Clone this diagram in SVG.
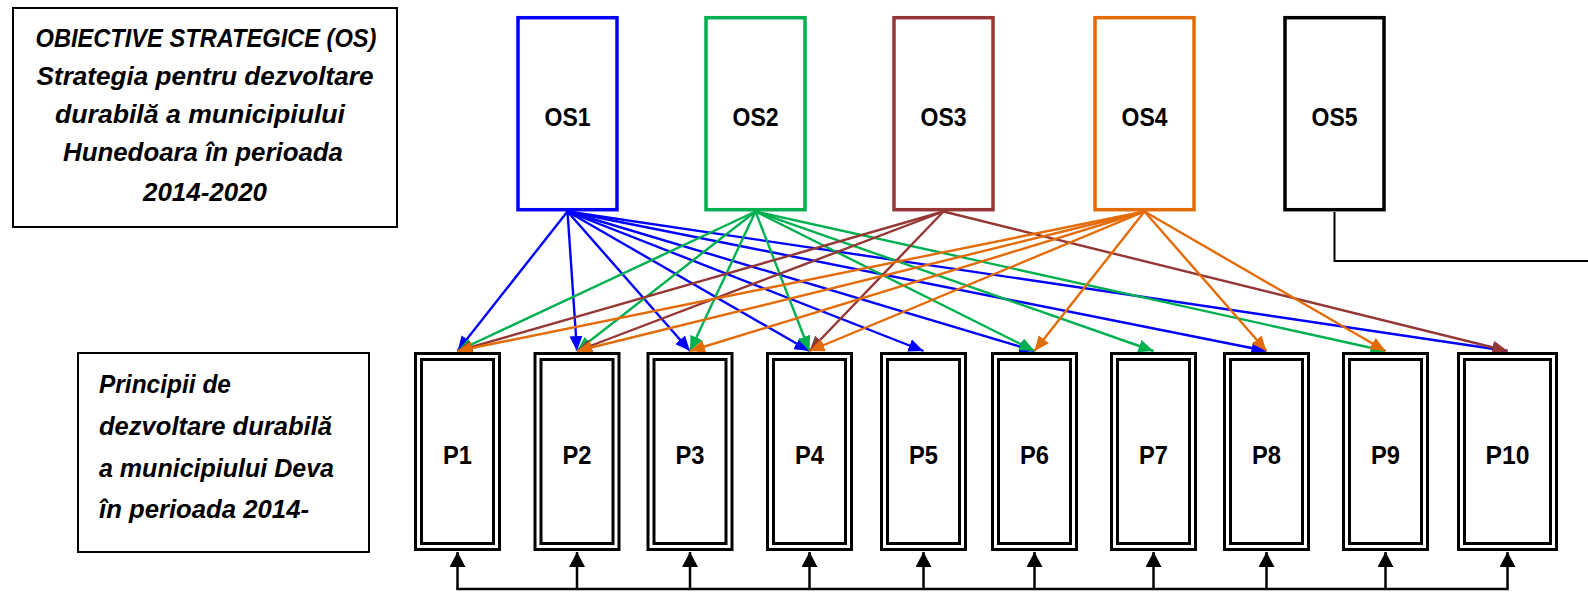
<svg xmlns="http://www.w3.org/2000/svg" width="1588" height="593" viewBox="0 0 1588 593">
<style>
.box{fill:#fff;stroke:#000;stroke-width:2}
.os{fill:#fff;stroke-width:3.5}
.pb{fill:#fff;stroke:#000;stroke-width:3}
.lbl{font-family:"Liberation Sans",Arial,sans-serif;font-weight:bold;font-size:26px;text-anchor:middle;fill:#000}
.txt{font-family:"Liberation Sans",Arial,sans-serif;font-weight:bold;font-style:italic;font-size:26px;fill:#000}
.c{fill:none;stroke-width:2.4}
.b{stroke:#0000FF;marker-end:url(#mb)}
.g{stroke:#00B050;marker-end:url(#mg)}
.r{stroke:#953735;marker-end:url(#mr)}
.o{stroke:#E36C09;marker-end:url(#mo)}
.k{fill:none;stroke:#000;stroke-width:2.5}
</style>
<defs>
<marker id="mb" viewBox="0 0 15 13" refX="15" refY="6.5" markerWidth="15" markerHeight="13" markerUnits="userSpaceOnUse" orient="auto"><path d="M0,0 L15,6.5 L0,13 z" fill="#0000FF"/></marker>
<marker id="mg" viewBox="0 0 15 13" refX="15" refY="6.5" markerWidth="15" markerHeight="13" markerUnits="userSpaceOnUse" orient="auto"><path d="M0,0 L15,6.5 L0,13 z" fill="#00B050"/></marker>
<marker id="mr" viewBox="0 0 15 13" refX="15" refY="6.5" markerWidth="15" markerHeight="13" markerUnits="userSpaceOnUse" orient="auto"><path d="M0,0 L15,6.5 L0,13 z" fill="#953735"/></marker>
<marker id="mo" viewBox="0 0 15 13" refX="15" refY="6.5" markerWidth="15" markerHeight="13" markerUnits="userSpaceOnUse" orient="auto"><path d="M0,0 L15,6.5 L0,13 z" fill="#E36C09"/></marker>
<marker id="mk" viewBox="0 0 15 16" refX="15" refY="8" markerWidth="15" markerHeight="16" markerUnits="userSpaceOnUse" orient="auto"><path d="M0,0 L15,8 L0,16 z" fill="#000"/></marker>
</defs>

<g id="title-os">
<rect class="box" x="13" y="8" width="384" height="219"/>
<text class="txt" x="206" y="47" text-anchor="middle" textLength="341" lengthAdjust="spacingAndGlyphs">OBIECTIVE STRATEGICE (OS)</text>
<text class="txt" x="205" y="85" text-anchor="middle" textLength="337" lengthAdjust="spacingAndGlyphs">Strategia pentru dezvoltare</text>
<text class="txt" x="200" y="123" text-anchor="middle" textLength="290" lengthAdjust="spacingAndGlyphs">durabilă a municipiului</text>
<text class="txt" x="203" y="161" text-anchor="middle" textLength="280" lengthAdjust="spacingAndGlyphs">Hunedoara în perioada</text>
<text class="txt" x="205" y="201" text-anchor="middle" textLength="124" lengthAdjust="spacingAndGlyphs">2014-2020</text>
</g>

<g id="title-p">
<rect class="box" x="78" y="353" width="291" height="199"/>
<text class="txt" x="99" y="393" textLength="132" lengthAdjust="spacingAndGlyphs">Principii de</text>
<text class="txt" x="99" y="435" textLength="233" lengthAdjust="spacingAndGlyphs">dezvoltare durabilă</text>
<text class="txt" x="99" y="477" textLength="235" lengthAdjust="spacingAndGlyphs">a municipiului Deva</text>
<text class="txt" x="99" y="518" textLength="210" lengthAdjust="spacingAndGlyphs">în perioada 2014-</text>
</g>

<g id="connectors">
<line class="c b" x1="567.5" y1="211.5" x2="457.5" y2="351"/>
<line class="c b" x1="567.5" y1="211.5" x2="577" y2="351"/>
<line class="c b" x1="567.5" y1="211.5" x2="690" y2="351"/>
<line class="c b" x1="567.5" y1="211.5" x2="809.5" y2="351"/>
<line class="c b" x1="567.5" y1="211.5" x2="923.5" y2="351"/>
<line class="c b" x1="567.5" y1="211.5" x2="1034.5" y2="351"/>
<line class="c b" x1="567.5" y1="211.5" x2="1266.5" y2="351"/>
<line class="c b" x1="567.5" y1="211.5" x2="1507.5" y2="351"/>
<line class="c g" x1="755.5" y1="211.5" x2="457.5" y2="351"/>
<line class="c g" x1="755.5" y1="211.5" x2="577" y2="351"/>
<line class="c g" x1="755.5" y1="211.5" x2="690" y2="351"/>
<line class="c g" x1="755.5" y1="211.5" x2="809.5" y2="351"/>
<line class="c g" x1="755.5" y1="211.5" x2="1034.5" y2="351"/>
<line class="c g" x1="755.5" y1="211.5" x2="1153.5" y2="351"/>
<line class="c g" x1="755.5" y1="211.5" x2="1385.5" y2="351"/>
<line class="c r" x1="943.5" y1="211.5" x2="457.5" y2="351"/>
<line class="c r" x1="943.5" y1="211.5" x2="577" y2="351"/>
<line class="c r" x1="943.5" y1="211.5" x2="809.5" y2="351"/>
<line class="c r" x1="943.5" y1="211.5" x2="1507.5" y2="351"/>
<line class="c o" x1="1144.5" y1="211.5" x2="457.5" y2="351"/>
<line class="c o" x1="1144.5" y1="211.5" x2="577" y2="351"/>
<line class="c o" x1="1144.5" y1="211.5" x2="690" y2="351"/>
<line class="c o" x1="1144.5" y1="211.5" x2="809.5" y2="351"/>
<line class="c o" x1="1144.5" y1="211.5" x2="1034.5" y2="351"/>
<line class="c o" x1="1144.5" y1="211.5" x2="1266.5" y2="351"/>
<line class="c o" x1="1144.5" y1="211.5" x2="1385.5" y2="351"/>
<polyline fill="none" stroke="#000" stroke-width="2" points="1334.5,212 1334.5,261 1588,261"/>
<line class="k" x1="456.3" y1="589" x2="1508.7" y2="589"/>
<line class="k" x1="457.5" y1="589" x2="457.5" y2="552" marker-end="url(#mk)"/>
<line class="k" x1="577" y1="589" x2="577" y2="552" marker-end="url(#mk)"/>
<line class="k" x1="690" y1="589" x2="690" y2="552" marker-end="url(#mk)"/>
<line class="k" x1="809.5" y1="589" x2="809.5" y2="552" marker-end="url(#mk)"/>
<line class="k" x1="923.5" y1="589" x2="923.5" y2="552" marker-end="url(#mk)"/>
<line class="k" x1="1034.5" y1="589" x2="1034.5" y2="552" marker-end="url(#mk)"/>
<line class="k" x1="1153.5" y1="589" x2="1153.5" y2="552" marker-end="url(#mk)"/>
<line class="k" x1="1266.5" y1="589" x2="1266.5" y2="552" marker-end="url(#mk)"/>
<line class="k" x1="1385.5" y1="589" x2="1385.5" y2="552" marker-end="url(#mk)"/>
<line class="k" x1="1507.5" y1="589" x2="1507.5" y2="552" marker-end="url(#mk)"/>
</g>

<g id="OS1"><rect class="os" x="518" y="17.7" width="99" height="192" stroke="#0000FF"/><text class="lbl" x="567.5" y="125.5" textLength="46" lengthAdjust="spacingAndGlyphs">OS1</text></g>
<g id="OS2"><rect class="os" x="706" y="17.7" width="99" height="192" stroke="#00B050"/><text class="lbl" x="755.5" y="125.5" textLength="46" lengthAdjust="spacingAndGlyphs">OS2</text></g>
<g id="OS3"><rect class="os" x="894" y="17.7" width="99" height="192" stroke="#953735"/><text class="lbl" x="943.5" y="125.5" textLength="46" lengthAdjust="spacingAndGlyphs">OS3</text></g>
<g id="OS4"><rect class="os" x="1095" y="17.7" width="99" height="192" stroke="#E36C09"/><text class="lbl" x="1144.5" y="125.5" textLength="46" lengthAdjust="spacingAndGlyphs">OS4</text></g>
<g id="OS5"><rect class="os" x="1285" y="17.7" width="99" height="192" stroke="#000"/><text class="lbl" x="1334.5" y="125.5" textLength="46" lengthAdjust="spacingAndGlyphs">OS5</text></g>

<g id="P1"><rect class="pb" x="415.5" y="353.5" width="84" height="196"/><rect class="pb" x="421.5" y="359.5" width="72" height="184"/><text class="lbl" x="457.5" y="464" textLength="29" lengthAdjust="spacingAndGlyphs">P1</text></g>
<g id="P2"><rect class="pb" x="535" y="353.5" width="84" height="196"/><rect class="pb" x="541" y="359.5" width="72" height="184"/><text class="lbl" x="577" y="464" textLength="29" lengthAdjust="spacingAndGlyphs">P2</text></g>
<g id="P3"><rect class="pb" x="648" y="353.5" width="84" height="196"/><rect class="pb" x="654" y="359.5" width="72" height="184"/><text class="lbl" x="690" y="464" textLength="29" lengthAdjust="spacingAndGlyphs">P3</text></g>
<g id="P4"><rect class="pb" x="767.5" y="353.5" width="84" height="196"/><rect class="pb" x="773.5" y="359.5" width="72" height="184"/><text class="lbl" x="809.5" y="464" textLength="29" lengthAdjust="spacingAndGlyphs">P4</text></g>
<g id="P5"><rect class="pb" x="881.5" y="353.5" width="84" height="196"/><rect class="pb" x="887.5" y="359.5" width="72" height="184"/><text class="lbl" x="923.5" y="464" textLength="29" lengthAdjust="spacingAndGlyphs">P5</text></g>
<g id="P6"><rect class="pb" x="992.5" y="353.5" width="84" height="196"/><rect class="pb" x="998.5" y="359.5" width="72" height="184"/><text class="lbl" x="1034.5" y="464" textLength="29" lengthAdjust="spacingAndGlyphs">P6</text></g>
<g id="P7"><rect class="pb" x="1111.5" y="353.5" width="84" height="196"/><rect class="pb" x="1117.5" y="359.5" width="72" height="184"/><text class="lbl" x="1153.5" y="464" textLength="29" lengthAdjust="spacingAndGlyphs">P7</text></g>
<g id="P8"><rect class="pb" x="1224.5" y="353.5" width="84" height="196"/><rect class="pb" x="1230.5" y="359.5" width="72" height="184"/><text class="lbl" x="1266.5" y="464" textLength="29" lengthAdjust="spacingAndGlyphs">P8</text></g>
<g id="P9"><rect class="pb" x="1343.5" y="353.5" width="84" height="196"/><rect class="pb" x="1349.5" y="359.5" width="72" height="184"/><text class="lbl" x="1385.5" y="464" textLength="29" lengthAdjust="spacingAndGlyphs">P9</text></g>
<g id="P10"><rect class="pb" x="1458.5" y="353.5" width="98" height="196"/><rect class="pb" x="1464.5" y="359.5" width="86" height="184"/><text class="lbl" x="1507.5" y="464" textLength="44" lengthAdjust="spacingAndGlyphs">P10</text></g>
</svg>
